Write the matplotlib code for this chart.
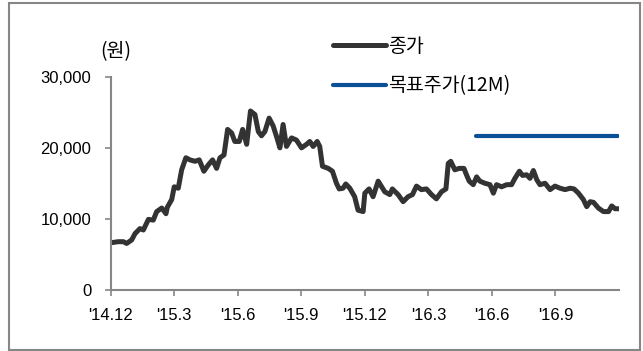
import matplotlib
matplotlib.use("Agg")
import matplotlib.pyplot as plt
from matplotlib.patches import Rectangle

plt.rcParams['font.family'] = ['Liberation Sans', 'Noto Sans CJK KR']

# months since Dec 2014 and closing price (won)
price_month = [0.00, 0.36, 0.60, 0.75, 0.99, 1.15, 1.38, 1.54, 1.78, 2.01,
               2.17, 2.41, 2.61, 2.67, 2.88, 3.00, 3.19, 3.35, 3.55, 3.74,
               3.98, 4.18, 4.40, 4.61, 4.81, 5.00, 5.16, 5.35, 5.52, 5.71,
               5.86, 6.07, 6.23, 6.42, 6.60, 6.81, 6.97, 7.12, 7.28, 7.48,
               7.67, 7.83, 7.99, 8.14, 8.30, 8.54, 8.77, 9.01, 9.25, 9.40,
               9.56, 9.75, 9.87, 10.00, 10.27, 10.47, 10.66, 10.79, 10.97, 11.10,
               11.29, 11.52, 11.68, 11.92, 12.00, 12.20, 12.39, 12.63, 12.94, 13.18,
               13.30, 13.57, 13.81, 14.04, 14.25, 14.44, 14.67, 14.91, 15.15, 15.38,
               15.62, 15.83, 15.94, 16.06, 16.25, 16.46, 16.68, 16.80, 16.93, 17.12,
               17.28, 17.43, 17.67, 17.91, 18.07, 18.22, 18.46, 18.70, 18.93, 19.09,
               19.30, 19.45, 19.64, 19.80, 19.96, 20.12, 20.27, 20.51, 20.75, 20.98,
               21.22, 21.46, 21.69, 21.88, 22.09, 22.32, 22.48, 22.64, 22.80, 23.03,
               23.27, 23.51, 23.66, 23.82, 23.98]
price = [6600, 6750, 6750, 6500, 7000, 7900, 8600, 8400, 9900, 9800,
         11000, 11500, 10700, 11600, 12700, 14500, 14300, 16900, 18600, 18300,
         18100, 18300, 16700, 17600, 18300, 17100, 18600, 19000, 22600, 22100,
         20900, 20900, 22600, 20500, 25200, 24700, 22300, 21700, 22300, 24200,
         23100, 21600, 20000, 23300, 20200, 21400, 21100, 20000, 20500, 20900,
         20200, 20900, 20200, 17400, 17100, 16700, 15000, 14200, 14300, 14900,
         14300, 13100, 11200, 11000, 13600, 14200, 13100, 15300, 13800, 13400,
         14200, 13400, 12400, 13100, 13400, 14600, 14100, 14200, 13400, 12800,
         13800, 14200, 17800, 18100, 16900, 17100, 17100, 16200, 15300, 14800,
         15900, 15300, 15000, 14800, 13600, 14800, 14500, 14800, 14800, 15700,
         16700, 16100, 16200, 15700, 16800, 15500, 14800, 15000, 14100, 14600,
         14300, 14100, 14300, 14200, 13600, 12700, 11700, 12400, 12300, 11500,
         11000, 11000, 11800, 11400, 11400]

target_month = [17.25, 23.95]
target = [21700, 21700]

tick_month = [0, 3, 6, 9, 12, 15, 18, 21]
tick_labels = ["'14.12", "'15.3", "'15.6", "'15.9", "'15.12", "'16.3", "'16.6", "'16.9"]
y_ticks = [0, 10000, 20000, 30000]

fig = plt.figure(figsize=(6.43, 3.51), dpi=100)
ax = fig.add_axes([0.1722, 0.1752, 0.7897, 0.6054])

ax.plot(price_month, price, color='#333333', lw=3.6, solid_capstyle='round',
        solid_joinstyle='round', label='종가')
ax.plot(target_month, target, color='#0B4F96', lw=3.0, solid_capstyle='round',
        label='목표주가(12M)')

ax.set_xlim(0, 23.98)
ax.set_ylim(0, 30000)
ax.set_xticks(tick_month)
ax.set_xticklabels(tick_labels)
ax.set_yticks(y_ticks)
ax.set_yticklabels(['{:,}'.format(v) for v in y_ticks])

gray = '#868686'
for s in ['top', 'right']:
    ax.spines[s].set_visible(False)
for s in ['left', 'bottom']:
    ax.spines[s].set_color(gray)
    ax.spines[s].set_linewidth(1.5)
ax.tick_params(direction='out', length=4, width=1.2, color=gray, labelsize=12)
ax.tick_params(axis='y', pad=10)
ax.tick_params(axis='x', pad=9)

kr = ['Noto Sans CJK KR']
fig.text(0.180, 0.852, '(원)', fontsize=14, family=kr, ha='center', va='center')

ax.legend(loc='upper left', bbox_to_anchor=(0.518, 0.898), bbox_transform=fig.transFigure,
          frameon=False, prop={'family': kr, 'size': 14}, handlelength=2.7,
          handletextpad=0.15, labelspacing=0.96, borderpad=0, borderaxespad=0)

# grey outer frame
fig.add_artist(Rectangle((9 / 643, 1 / 351), 631 / 643, 347 / 351, transform=fig.transFigure,
                         fill=False, edgecolor=gray, lw=1.5))

plt.savefig('out.png', dpi=100)
